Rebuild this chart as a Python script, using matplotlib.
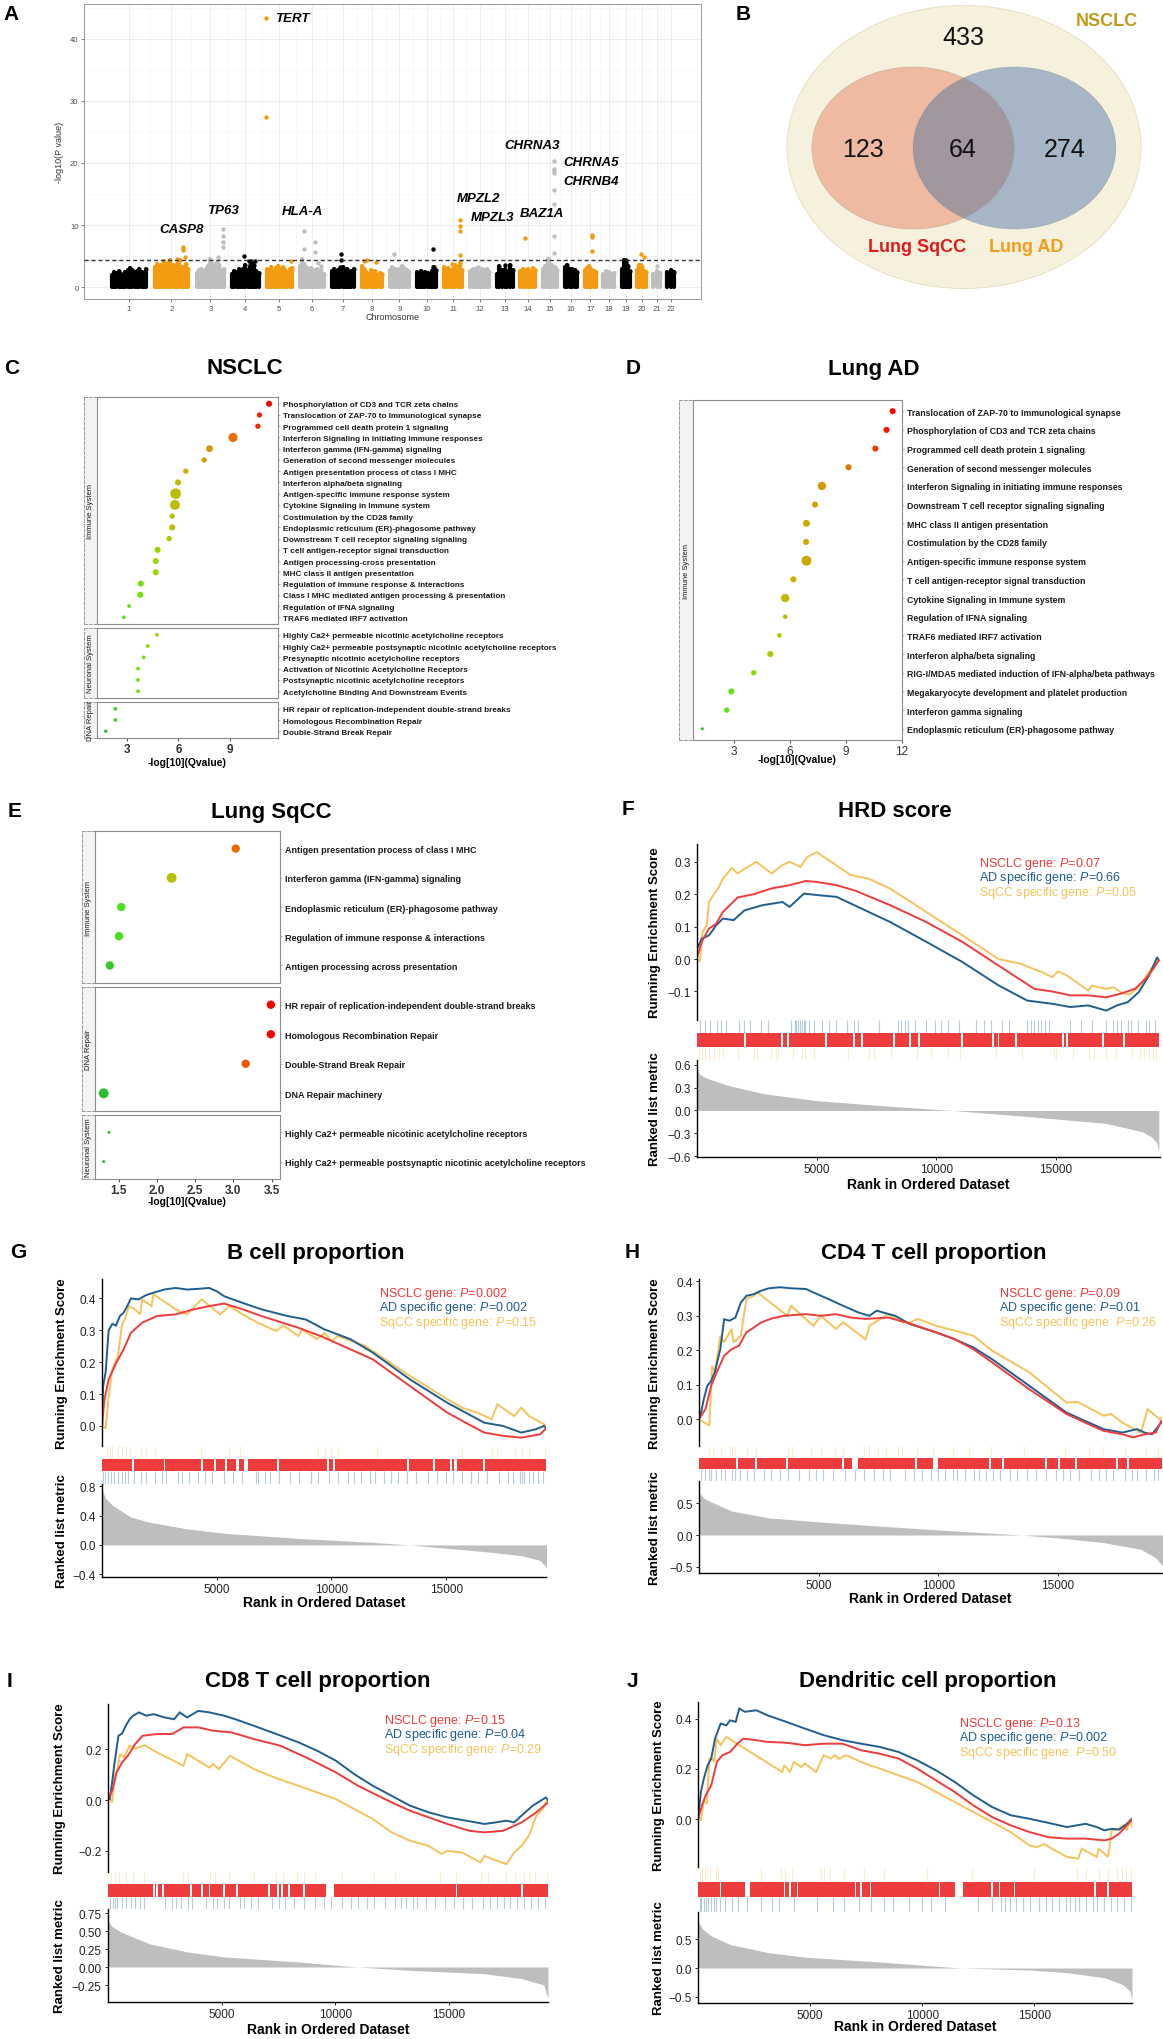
import numpy as np
import matplotlib
matplotlib.use("Agg")
import matplotlib.pyplot as plt
from matplotlib.patches import Ellipse
from matplotlib.colors import LinearSegmentedColormap, Normalize
from matplotlib import font_manager

installed = {f.name for f in font_manager.fontManager.ttflist}
SANS = "Liberation Sans" if "Liberation Sans" in installed else "DejaVu Sans"
NARROW = "Liberation Sans Narrow" if "Liberation Sans Narrow" in installed else SANS
plt.rcParams["font.family"] = SANS
plt.rcParams["mathtext.fontset"] = "custom"
plt.rcParams["mathtext.rm"] = SANS
plt.rcParams["mathtext.it"] = SANS + ":italic"

# ---------------- A: manhattan ----------------
CHROM_LEN = [249, 243, 198, 191, 181, 171, 159, 146, 141, 136, 135,
             134, 115, 107, 103, 90, 81, 78, 59, 63, 48, 51]
CLOUD = [
    [2.0, 2.5, 2.3, 2.6, 2.2, 1.9, 2.4, 2.8, 3.1, 2.7, 2.4, 2.6, 2.9, 2.5, 2.3, 3.0],
    [3.2, 3.8, 3.0, 3.5, 4.2, 3.4, 3.9, 4.4, 3.6, 3.1, 3.8, 4.3, 3.3, 2.9, 3.7, 3.0],
    [2.3, 2.7, 3.0, 2.5, 2.9, 3.4, 4.5, 3.8, 3.2, 4.0, 3.5, 2.8, 3.0],
    [2.2, 2.6, 2.4, 2.9, 2.7, 3.0, 3.6, 2.8, 3.3, 3.9, 3.5, 2.6, 2.3],
    [3.0, 2.8, 3.3, 2.6, 3.1, 3.4, 2.9, 3.2, 2.7, 2.5, 2.9, 3.1],
    [3.4, 4.6, 3.8, 3.3, 2.9, 3.1, 2.7, 2.6, 2.9, 2.4, 2.8, 2.2],
    [2.6, 2.9, 2.5, 2.8, 3.0, 3.3, 2.7, 2.9, 2.4, 2.6, 3.0],
    [3.4, 2.9, 2.5, 2.2, 2.8, 2.4, 2.6, 2.0, 2.3, 2.1],
    [2.8, 3.2, 3.0, 2.6, 2.9, 3.4, 3.1, 2.7, 2.5],
    [2.4, 2.2, 2.6, 2.1, 2.5, 2.3, 2.0, 2.6, 3.2, 2.8],
    [3.2, 2.8, 3.1, 2.6, 2.9, 3.6, 3.3, 3.8, 2.7],
    [2.6, 3.0, 2.8, 3.1, 2.5, 2.9, 2.7, 3.0, 2.4],
    [2.1, 3.4, 2.8, 3.0, 2.5, 3.5, 2.7],
    [2.6, 3.0, 2.8, 2.9, 2.5, 3.1, 2.7],
    [3.0, 3.4, 4.6, 3.8, 3.6, 3.2, 2.7],
    [3.2, 3.6, 2.9, 3.0, 2.7, 2.5],
    [2.7, 3.1, 3.4, 3.0, 2.6, 2.4],
    [2.2, 2.6, 2.4, 2.0, 2.3],
    [3.0, 4.3, 3.8, 3.4, 2.6],
    [2.8, 3.5, 3.2, 2.6, 2.4],
    [2.1, 2.6, 2.3],
    [2.5, 2.7, 2.4],
]
A_PEAKS = [(2, 200, 6.5), (2, 200, 6.2), (2, 200, 6.0), (2, 215, 4.8), (2, 180, 4.3), (2, 160, 4.5),
           (3, 189, 9.3), (3, 187, 8.3), (3, 187, 7.3), (3, 186, 6.4), (3, 150, 4.8),
           (4, 88, 5.0), (4, 120, 4.2), (4, 135, 4.2), (4, 130, 3.5), (4, 160, 4.2),
           (5, 1.3, 43.4), (5, 1.3, 27.4), (5, 170, 4.2),
           (6, 31, 9.0), (6, 31, 6.2), (6, 111, 7.2), (6, 111, 5.7), (6, 125, 3.9), (6, 150, 3.4),
           (7, 67, 5.4), (7, 67, 4.4), (7, 62, 3.3),
           (8, 19, 4.2), (8, 37, 4.3), (8, 102, 4.0), (9, 31, 5.3), (10, 110, 6.1), (10, 110, 3.2),
           (11, 118, 10.9), (11, 118, 9.8), (11, 118, 9.0), (11, 118, 5.2), (11, 118, 4.0), (11, 60, 3.7),
           (12, 55, 3.2), (13, 60, 3.5), (14, 35, 7.9),
           (15, 78, 20.3), (15, 78, 19.0), (15, 78, 18.7), (15, 78, 18.4), (15, 78, 15.6),
           (15, 78, 13.4), (15, 78, 8.2), (15, 78, 5.5), (15, 40, 4.6),
           (17, 52, 8.4), (17, 52, 8.1), (17, 52, 5.9), (19, 32, 4.3), (19, 30, 4.0),
           (20, 30, 5.3), (20, 51, 4.8), (20, 28, 3.6), (21, 28, 3.4)]
GENE_LABELS = [("TERT", 1137, 43.4, "left"), ("CASP8", 492, 9.35, "center"), ("TP63", 777, 12.5, "center"),
               ("HLA-A", 1331, 12.3, "center"), ("MPZL2", 2545, 14.3, "center"), ("MPZL3", 2642, 11.3, "center"),
               ("BAZ1A", 2989, 11.9, "center"), ("CHRNA3", 2920, 22.9, "center"),
               ("CHRNA5", 3329, 20.1, "center"), ("CHRNB4", 3329, 17.1, "center")]
THRESHOLD = 4.3

# ---------------- B: venn ----------------
VENN_COUNTS = [433, 123, 64, 274]   # NSCLC only, SqCC, shared, AD

# ---------------- C / D / E: pathway dot plots ----------------
C_IMMUNE = ["Phosphorylation of CD3 and TCR zeta chains", "Translocation of ZAP-70 to Immunological synapse",
            "Programmed cell death protein 1 signaling", "Interferon Signaling in initiating immune responses",
            "Interferon gamma (IFN-gamma) signaling", "Generation of second messenger molecules",
            "Antigen presentation process of class I MHC", "Interferon alpha/beta signaling",
            "Antigen-specific immune response system", "Cytokine Signaling in Immune system",
            "Costimulation by the CD28 family", "Endoplasmic reticulum (ER)-phagosome pathway",
            "Downstream T cell receptor signaling signaling", "T cell antigen-receptor signal transduction",
            "Antigen processing-cross presentation", "MHC class II antigen presentation",
            "Regulation of immune response & interactions", "Class I MHC mediated antigen processing & presentation",
            "Regulation of IFNA signaling", "TRAF6 mediated IRF7 activation"]
C_IMMUNE_Q = [11.28, 10.72, 10.63, 9.18, 7.81, 7.50, 6.43, 5.98, 5.84, 5.80,
              5.64, 5.64, 5.46, 4.79, 4.68, 4.68, 3.81, 3.78, 3.13, 2.82]
C_IMMUNE_N = [8, 7, 7, 12, 9, 7, 7, 8, 14, 13, 7, 8, 7, 8, 8, 8, 8, 8, 5, 5]
C_NEURO = ["Highly Ca2+ permeable nicotinic acetylcholine receptors",
           "Highly Ca2+ permeable postsynaptic nicotinic acetylcholine receptors",
           "Presynaptic nicotinic acetylcholine receptors", "Activation of Nicotinic Acetylcholine Receptors",
           "Postsynaptic nicotinic acetylcholine receptors", "Acetylcholine Binding And Downstream Events"]
C_NEURO_Q = [4.75, 4.21, 3.98, 3.65, 3.65, 3.65]
C_NEURO_N = [5, 5, 5, 5, 5, 5]
C_DNA = ["HR repair of replication-independent double-strand breaks", "Homologous Recombination Repair",
         "Double-Strand Break Repair"]
C_DNA_Q = [2.33, 2.33, 1.77]
C_DNA_N = [5, 5, 4.5]

D_IMMUNE = ["Translocation of ZAP-70 to Immunological synapse", "Phosphorylation of CD3 and TCR zeta chains",
            "Programmed cell death protein 1 signaling", "Generation of second messenger molecules",
            "Interferon Signaling in initiating immune responses", "Downstream T cell receptor signaling signaling",
            "MHC class II antigen presentation", "Costimulation by the CD28 family",
            "Antigen-specific immune response system", "T cell antigen-receptor signal transduction",
            "Cytokine Signaling in Immune system", "Regulation of IFNA signaling", "TRAF6 mediated IRF7 activation",
            "Interferon alpha/beta signaling", "RIG-I/MDA5 mediated induction of IFN-alpha/beta pathways",
            "Megakaryocyte development and platelet production", "Interferon gamma signaling",
            "Endoplasmic reticulum (ER)-phagosome pathway"]
D_IMMUNE_Q = [11.52, 11.19, 10.59, 9.15, 7.72, 7.35, 6.89, 6.87, 6.89, 6.19,
              5.75, 5.75, 5.44, 4.95, 4.06, 2.86, 2.61, 1.30]
D_IMMUNE_N = [8, 8, 8, 8, 11, 8, 9, 8, 13, 8, 11, 6, 6, 8, 7, 8, 7, 4]

E_IMMUNE = ["Antigen presentation process of class I MHC", "Interferon gamma (IFN-gamma) signaling",
            "Endoplasmic reticulum (ER)-phagosome pathway", "Regulation of immune response & interactions",
            "Antigen processing across presentation"]
E_IMMUNE_Q = [3.03, 2.19, 1.53, 1.50, 1.38]
E_IMMUNE_N = [11, 13, 11, 11, 11]
E_DNA = ["HR repair of replication-independent double-strand breaks", "Homologous Recombination Repair",
         "Double-Strand Break Repair", "DNA Repair machinery"]
E_DNA_Q = [3.49, 3.49, 3.16, 1.30]
E_DNA_N = [11, 11, 11, 13]
E_NEURO = ["Highly Ca2+ permeable nicotinic acetylcholine receptors",
           "Highly Ca2+ permeable postsynaptic nicotinic acetylcholine receptors"]
E_NEURO_Q = [1.37, 1.30]
E_NEURO_N = [4, 4]

# ---------------- F-J: GSEA ----------------
F_NSCLC = [(0, 0.006), (200, 0.053), (500, 0.094), (800, 0.109), (1080, 0.145), (1700, 0.19), (2370, 0.20),
           (3120, 0.218), (3870, 0.228), (4550, 0.241), (5000, 0.238), (5830, 0.228), (6580, 0.212),
           (8080, 0.166), (9590, 0.114), (11090, 0.053), (12600, -0.02), (14100, -0.092), (14850, -0.10),
           (15600, -0.112), (16350, -0.112), (17100, -0.118), (17700, -0.107), (18300, -0.092),
           (18760, -0.06), (19070, -0.03), (19300, -0.004)]
F_AD = [(0, 0.032), (200, 0.063), (500, 0.073), (800, 0.104), (1080, 0.125), (1530, 0.12), (1980, 0.15),
        (2720, 0.166), (3570, 0.176), (3870, 0.161), (4470, 0.202), (5080, 0.197), (5830, 0.192),
        (6580, 0.166), (8080, 0.114), (9590, 0.053), (11090, -0.009), (12600, -0.081), (13800, -0.128),
        (14850, -0.138), (15600, -0.148), (16350, -0.143), (17100, -0.159), (17550, -0.143),
        (18000, -0.133), (18460, -0.102), (18900, -0.05), (19230, 0.006), (19300, -0.004)]
F_SQCC = [(0, 0.0), (120, -0.007), (230, 0.083), (410, 0.104), (500, 0.176), (710, 0.20), (900, 0.22),
          (1080, 0.248), (1460, 0.281), (1700, 0.264), (2000, 0.279), (2480, 0.30), (3120, 0.264),
          (3570, 0.29), (3870, 0.30), (4320, 0.284), (4620, 0.315), (5000, 0.33), (6430, 0.259),
          (7180, 0.248), (8080, 0.217), (9590, 0.145), (11090, 0.073), (12600, 0.0), (13500, -0.014),
          (14400, -0.04), (14850, -0.056), (15080, -0.038), (15450, -0.05), (16350, -0.097),
          (16500, -0.082), (17100, -0.092), (17400, -0.087), (17700, -0.102), (18080, -0.11),
          (18460, -0.087), (18600, -0.072), (18970, -0.03), (19200, -0.01), (19300, -0.004)]
F_METRIC = [(0, 0.54), (100, 0.48), (300, 0.44), (550, 0.41), (1300, 0.33), (2800, 0.22), (5000, 0.13),
            (8000, 0.057), (10700, 0.0), (14100, -0.087), (17100, -0.17), (18600, -0.28), (19000, -0.35),
            (19200, -0.42), (19300, -0.54)]
F_RED = [(0, 1950), (2030, 3530), (3610, 3770), (3840, 5340), (5420, 6540), (6620, 6840), (6920, 8190),
         (8270, 8870), (8950, 9250), (9330, 11050), (11130, 12330), (12410, 12560), (12640, 13310),
         (13390, 15260), (15340, 15410), (15490, 16920), (17000, 17820), (17900, 19300)]
F_BLUE = [110, 320, 550, 850, 1000, 1230, 1750, 1980, 2200, 2660, 2960, 3930, 4080, 4150, 4230, 4310, 4380,
          4460, 4530, 4680, 4910, 5210, 5510, 5810, 6260, 6560, 6710, 7620, 8380, 8530, 8680, 8830, 9130,
          9580, 9960, 10180, 10480, 10930, 11680, 11980, 12290, 12740, 13040, 13790, 13940, 14090, 14240,
          14390, 14550, 14700, 15600, 16050, 16500, 17100, 17400, 17550, 17700, 18000, 18150, 18450,
          18750, 18900, 19130]
F_YELLOW = [100, 200, 350, 500, 700, 900, 1100, 1700, 2400, 2500, 3100, 3300, 3400, 4000, 4400, 4500,
            4900, 6300, 7200, 7400, 8100, 9200, 9800, 10500, 11000, 12500, 13600, 14900, 15000, 15700,
            16400, 16600, 17100, 17500, 18200, 18500, 18700, 18900, 19050, 19200]
F_P = ["0.07", "0.66", "0.05"]

G_NSCLC = [(0, 0.0), (100, 0.08), (290, 0.146), (620, 0.198), (940, 0.24), (1260, 0.292), (1750, 0.324),
           (2400, 0.345), (3210, 0.35), (4020, 0.366), (4670, 0.376), (5320, 0.384), (6130, 0.366),
           (6940, 0.345), (8560, 0.308), (9530, 0.282), (10180, 0.261), (11800, 0.209), (13420, 0.125),
           (15040, 0.042), (15850, 0.01), (16660, -0.021), (17470, -0.031), (18280, -0.037),
           (19100, -0.026), (19390, -0.005)]
G_AD = [(0, 0.0), (50, 0.125), (160, 0.17), (290, 0.30), (450, 0.32), (610, 0.315), (780, 0.345),
        (940, 0.355), (1100, 0.376), (1260, 0.40), (1590, 0.397), (1910, 0.41), (2240, 0.418),
        (2720, 0.428), (3210, 0.433), (3700, 0.428), (4180, 0.43), (4670, 0.433), (4990, 0.423),
        (5320, 0.407), (6130, 0.386), (6940, 0.366), (8070, 0.345), (8880, 0.334), (9690, 0.303),
        (10830, 0.272), (11800, 0.23), (13420, 0.146), (15040, 0.073), (16660, 0.01), (17470, 0.0),
        (18280, -0.021), (18930, -0.01), (19260, 0.0), (19390, -0.01)]
G_SQCC = [(50, 0.0), (160, -0.008), (290, 0.089), (450, 0.178), (700, 0.22), (860, 0.313), (1020, 0.34),
          (1180, 0.376), (1430, 0.366), (1670, 0.35), (1750, 0.397), (2160, 0.376), (2240, 0.413),
          (3210, 0.366), (3700, 0.35), (4340, 0.397), (5150, 0.35), (5560, 0.376), (6130, 0.35),
          (6780, 0.324), (7590, 0.298), (7910, 0.315), (8560, 0.282), (8720, 0.303), (9370, 0.272),
          (9690, 0.292), (10020, 0.266), (10260, 0.282), (11480, 0.251), (11800, 0.235), (13420, 0.157),
          (15040, 0.084), (15690, 0.057), (16340, 0.042), (16990, 0.021), (17230, 0.068), (17960, 0.031),
          (18280, 0.057), (18610, 0.031), (19390, 0.0)]
G_METRIC = [(0, 0.76), (150, 0.64), (460, 0.54), (1260, 0.38), (2070, 0.31), (3700, 0.22), (5320, 0.16),
            (8560, 0.09), (11800, 0.036), (13420, 0.0), (15040, -0.045), (16660, -0.09), (18280, -0.145),
            (19090, -0.21), (19300, -0.28), (19400, -0.33)]
G_RED = [(0, 1320), (1400, 2690), (2750, 4300), (4380, 4880), (4950, 5370), (5450, 5850), (5950, 6200),
         (6350, 7630), (7720, 9820), (9900, 10060), (10150, 13300), (13400, 14440), (14530, 15160),
         (15250, 15350), (15460, 16620), (16710, 19350)]
G_BLUE = [60, 150, 250, 400, 520, 700, 850, 1000, 1150, 1400, 1700, 1900, 2300, 2600, 2800, 3300, 3500,
          3800, 4200, 4500, 4800, 5300, 5700, 6100, 6700, 6800, 7100, 7300, 7700, 8200, 8600, 9100, 9400,
          9900, 10300, 10700, 11000, 11300, 11700, 11900, 12300, 12600, 12900, 13300, 13700, 14200,
          14600, 15000, 15300, 15700, 16100, 16400, 16800, 17300, 17700, 17900, 18200, 18300, 18400,
          18600, 18800, 19000, 19200]
G_YELLOW = [200, 350, 450, 700, 870, 1030, 1200, 1680, 1930, 2330, 4300, 5550, 6000, 9400, 9700, 10000,
            10300, 12000, 15700, 17000, 17200, 18000, 18300, 18600, 19300]
G_P = ["0.002", "0.002", "0.15"]

H_NSCLC = [(0, 0.0), (270, 0.029), (510, 0.097), (740, 0.136), (1050, 0.184), (1360, 0.203), (1670, 0.213),
           (1980, 0.252), (2290, 0.266), (2600, 0.281), (3070, 0.293), (3540, 0.30), (4470, 0.305),
           (5090, 0.30), (5720, 0.305), (6340, 0.295), (6960, 0.291), (7890, 0.295), (8670, 0.281),
           (9910, 0.252), (10690, 0.232), (11470, 0.203), (12250, 0.165), (13800, 0.087), (15360, 0.015),
           (16130, -0.01), (16910, -0.034), (17690, -0.044), (18150, -0.053), (18620, -0.044),
           (19090, -0.039), (19320, -0.005)]
H_AD = [(0, 0.0), (90, 0.02), (200, 0.058), (350, 0.097), (500, 0.11), (660, 0.136), (890, 0.203),
        (1050, 0.29), (1280, 0.286), (1520, 0.295), (1750, 0.339), (1980, 0.358), (2290, 0.363),
        (2600, 0.373), (2920, 0.38), (3380, 0.383), (3850, 0.38), (4470, 0.378), (4780, 0.368),
        (5400, 0.349), (6030, 0.329), (6650, 0.31), (7120, 0.30), (7420, 0.315), (8200, 0.30),
        (8820, 0.276), (9910, 0.252), (10690, 0.232), (11470, 0.208), (12250, 0.174), (13800, 0.097),
        (15360, 0.019), (16130, -0.005), (16910, -0.029), (17690, -0.039), (18310, -0.029),
        (18620, -0.039), (18930, -0.044), (19320, -0.01)]
H_SQCC = [(0, 0.0), (430, -0.019), (550, 0.155), (660, 0.136), (890, 0.242), (1050, 0.223), (1360, 0.262),
          (1440, 0.223), (1750, 0.242), (1980, 0.349), (2290, 0.358), (2450, 0.368), (3690, 0.30),
          (3850, 0.329), (4780, 0.271), (5090, 0.30), (5720, 0.262), (6030, 0.281), (6960, 0.232),
          (7120, 0.271), (7580, 0.291), (7890, 0.305), (8510, 0.281), (8820, 0.281), (9140, 0.291),
          (9910, 0.271), (10690, 0.257), (11470, 0.242), (12250, 0.199), (13800, 0.136), (15360, 0.048),
          (15830, 0.05), (16910, 0.01), (17220, 0.015), (17690, -0.01), (18470, -0.039), (18750, 0.029),
          (19240, 0.0), (19370, 0.005)]
H_METRIC = [(0, 0.67), (200, 0.58), (580, 0.51), (1360, 0.38), (2920, 0.27), (5090, 0.205), (7580, 0.14),
            (10690, 0.063), (13490, 0.0), (15360, -0.058), (16910, -0.12), (18470, -0.226),
            (19090, -0.36), (19370, -0.49)]
H_RED = [(0, 1550), (1630, 2330), (2410, 3620), (3700, 5990), (6070, 6380), (6650, 9020), (9100, 9800),
         (9990, 12130), (12210, 12670), (12750, 14460), (14540, 15010), (15090, 15710), (15790, 17420),
         (17500, 17880), (17960, 19350)]
H_BLUE = [100, 250, 400, 500, 700, 900, 1100, 1400, 1500, 1700, 2000, 2300, 2700, 3000, 3400, 3700, 4200,
          4600, 4900, 5200, 5600, 6100, 6500, 6900, 7300, 7700, 8000, 8600, 9000, 9300, 9700, 10000,
          10300, 10600, 10800, 11100, 11500, 11700, 12000, 12300, 12600, 13000, 13300, 13700, 14100,
          14500, 14900, 15200, 15500, 15900, 16400, 16700, 17000, 17300, 17800, 18100, 18300, 18700,
          19000, 19200]
H_YELLOW = [400, 600, 900, 1300, 1400, 1500, 2000, 2400, 3700, 3900, 4700, 5100, 5700, 6000, 6900, 7100,
            7500, 7800, 8300, 8500, 9100, 9800, 10600, 11300, 12200, 13600, 15300, 16300, 16900, 17800,
            18700, 19200]
H_P = ["0.09", "0.01", "0.26"]

I_NSCLC = [(0, 0.0), (210, 0.043), (380, 0.109), (620, 0.148), (870, 0.174), (1190, 0.22), (1520, 0.253),
           (2170, 0.26), (2830, 0.26), (3320, 0.286), (3970, 0.286), (4620, 0.273), (5440, 0.266),
           (6420, 0.24), (7570, 0.214), (8710, 0.168), (10020, 0.109), (11000, 0.056), (12470, -0.009),
           (13280, -0.042), (14920, -0.094), (15900, -0.121), (16550, -0.127), (17370, -0.121),
           (18190, -0.088), (18840, -0.048), (19350, -0.009)]
I_AD = [(0, 0.0), (80, 0.004), (180, 0.069), (290, 0.148), (460, 0.253), (620, 0.262), (780, 0.292),
        (950, 0.318), (1110, 0.332), (1360, 0.345), (1680, 0.332), (2010, 0.338), (2500, 0.325),
        (2910, 0.318), (3150, 0.345), (3480, 0.325), (3970, 0.351), (4460, 0.345), (5110, 0.332),
        (5600, 0.318), (6420, 0.292), (7400, 0.26), (8380, 0.227), (9200, 0.194), (10020, 0.155),
        (10830, 0.102), (11650, 0.056), (12470, 0.017), (13280, -0.022), (14100, -0.048),
        (14920, -0.068), (15740, -0.081), (16550, -0.094), (17040, -0.088), (17530, -0.081),
        (17860, -0.088), (18350, -0.048), (18680, -0.022), (19250, 0.01), (19350, 0.0)]
I_SQCC = [(80, 0.004), (180, -0.009), (290, 0.096), (410, 0.122), (540, 0.181), (700, 0.168), (950, 0.214),
          (1190, 0.201), (1600, 0.216), (2170, 0.187), (3320, 0.135), (3480, 0.181), (4460, 0.128),
          (4620, 0.142), (4870, 0.122), (5360, 0.174), (6420, 0.122), (7320, 0.089), (7730, 0.076),
          (8380, 0.056), (9200, 0.03), (10020, 0.004), (11650, -0.075), (12470, -0.127), (13280, -0.16),
          (14100, -0.18), (14670, -0.212), (14920, -0.20), (15570, -0.206), (16380, -0.245),
          (16550, -0.22), (16880, -0.232), (17530, -0.252), (17860, -0.206), (18190, -0.18),
          (18510, -0.14), (18840, -0.062), (19170, -0.029), (19300, 0.0), (19350, -0.013)]
I_METRIC = [(0, 0.65), (150, 0.57), (540, 0.49), (1850, 0.32), (3480, 0.21), (5110, 0.14), (8380, 0.07),
            (11000, 0.0), (13280, -0.046), (16550, -0.093), (18190, -0.16), (19170, -0.25),
            (19350, -0.44)]
I_RED = [(0, 1970), (2050, 2130), (2210, 2380), (2460, 3600), (3680, 4090), (4170, 4420), (4500, 5070),
         (5150, 5650), (5730, 7040), (7120, 7440), (7520, 7610), (7690, 7930), (8010, 8590),
         (8670, 9600), (9950, 15290), (15370, 18150), (18230, 19350)]
I_BLUE = [100, 200, 300, 400, 600, 800, 1000, 1200, 1400, 1600, 2500, 2800, 3000, 3200, 3500, 3700, 4300,
          4600, 4800, 5100, 5300, 5800, 6000, 6300, 6600, 7200, 7500, 7800, 8200, 8600, 9100, 9500, 9800,
          10300, 10700, 11000, 11400, 11700, 12200, 12600, 12900, 13100, 13400, 13600, 14000, 14400,
          14800, 15200, 15600, 16000, 16500, 16800, 17100, 17400, 17700, 18000, 18300, 18600, 18900,
          19200]
I_YELLOW = [150, 300, 500, 800, 1100, 1600, 3300, 3500, 4500, 4700, 5300, 6400, 7400, 7700, 8300, 8600,
            9100, 10300, 11700, 12600, 14600, 15300, 16400, 16700, 17500, 17900, 18300, 18500, 18800, 19300]
I_P = ["0.15", "0.04", "0.29"]

J_NSCLC = [(0, 0.0), (180, 0.054), (340, 0.094), (590, 0.134), (840, 0.227), (1090, 0.254), (1430, 0.267),
           (1760, 0.30), (2010, 0.32), (2600, 0.314), (3100, 0.307), (3930, 0.304), (4770, 0.294),
           (5600, 0.30), (6440, 0.30), (7270, 0.274), (8110, 0.26), (8940, 0.241), (9770, 0.201),
           (10610, 0.154), (11440, 0.108), (12280, 0.054), (13110, 0.008), (13940, -0.025),
           (14780, -0.052), (15610, -0.072), (16450, -0.078), (17280, -0.078), (18120, -0.085),
           (18450, -0.078), (18780, -0.058), (19120, -0.025), (19320, -0.005)]
J_AD = [(0, 0.0), (130, 0.108), (260, 0.161), (430, 0.214), (590, 0.241), (760, 0.32), (1010, 0.38),
        (1260, 0.373), (1430, 0.393), (1680, 0.387), (1840, 0.44), (2090, 0.427), (2600, 0.433),
        (3100, 0.413), (3930, 0.387), (4770, 0.36), (5600, 0.334), (6440, 0.314), (7270, 0.30),
        (8110, 0.287), (8940, 0.267), (9770, 0.234), (10610, 0.194), (11440, 0.148), (12280, 0.094),
        (13110, 0.048), (13940, 0.015), (14780, 0.001), (15610, -0.015), (16450, -0.032),
        (17280, -0.019), (17780, -0.032), (18120, -0.045), (18450, -0.039), (18780, -0.042),
        (19120, -0.019), (19350, 0.001)]
J_SQCC = [(60, 0.0), (130, -0.005), (260, 0.074), (390, 0.061), (510, 0.241), (640, 0.241), (720, 0.227),
          (840, 0.32), (1010, 0.294), (1260, 0.327), (3760, 0.187), (3840, 0.214), (4100, 0.187),
          (4270, 0.227), (4600, 0.207), (4770, 0.221), (5270, 0.187), (5600, 0.254), (5930, 0.241),
          (6100, 0.254), (6270, 0.24), (6600, 0.254), (7440, 0.221), (8110, 0.201), (8940, 0.174),
          (9770, 0.148), (10610, 0.108), (11440, 0.068), (12280, 0.028), (13110, -0.012),
          (13940, -0.052), (14780, -0.105), (15110, -0.112), (15440, -0.10), (15780, -0.118),
          (16450, -0.151), (16950, -0.158), (17110, -0.118), (17780, -0.151), (17860, -0.118),
          (18280, -0.151), (18450, -0.045), (18780, -0.039), (18950, -0.025), (19120, -0.045),
          (19280, 0.001), (19350, -0.032)]
J_METRIC = [(0, 0.82), (200, 0.68), (590, 0.56), (1430, 0.41), (3100, 0.27), (4770, 0.19), (8110, 0.105),
            (11000, 0.02), (11800, 0.0), (14780, -0.035), (16450, -0.08), (18120, -0.17), (18950, -0.29),
            (19250, -0.4), (19350, -0.55)]
J_RED = [(0, 980), (1040, 2090), (2340, 3820), (3880, 4070), (4130, 4400), (4460, 6990), (7050, 7240),
         (7300, 7650), (7710, 10740), (10800, 11440), (11810, 13080), (13140, 13410), (13470, 14080),
         (14140, 17670), (17730, 18250), (18310, 19350)]
J_BLUE = [80, 150, 250, 350, 450, 600, 700, 800, 1000, 1200, 1500, 1800, 2200, 2800, 3300, 3600, 4300,
          5300, 6000, 6500, 7200, 7700, 8300, 8700, 9400, 10000, 10400, 11000, 12500, 13100, 13500, 13700,
          13900, 14200, 14500, 14800, 15200, 15500, 15800, 16100, 16400, 16600, 16800, 17000, 17300,
          17600, 17800, 18100, 18400, 18700, 19000, 19300]
J_YELLOW = [100, 200, 300, 400, 550, 800, 900, 2800, 3700, 3900, 4200, 5500, 5600, 5900, 6500, 7400, 8300,
            10200, 12200, 15000, 16900, 17300, 17900, 18300, 18700, 18900, 19100, 19300]
J_P = ["0.13", "0.002", "0.50"]

N_GENES = 19350

# ================= drawing =================
W, H = 1163, 2040
fig = plt.figure(figsize=(W / 100, H / 100), dpi=100)


def px_axes(x0, y0, x1, y1):
    return fig.add_axes([x0 / W, 1 - y1 / H, (x1 - x0) / W, (y1 - y0) / H])


ov = fig.add_axes([0, 0, 1, 1])
ov.set_xlim(0, W)
ov.set_ylim(H, 0)
ov.axis("off")
ov.set_zorder(10)

RED, BLUE, YEL = "#EE3B3B", "#1F5E8E", "#F5C35C"
CHROM_COLORS = ["#000000", "#F39C12", "#BEBEBE"]

# ---- A
axA = px_axes(84, 5, 701, 300)
GAP = 49
starts = np.concatenate([[0], np.cumsum(np.array(CHROM_LEN[:-1]) + GAP)])
centers = starts + np.array(CHROM_LEN) / 2
for k, prof in enumerate(CLOUD):
    col = CHROM_COLORS[k % 3]
    xs = starts[k] + np.linspace(0.02, 0.98, len(prof)) * CHROM_LEN[k]
    lc = axA.vlines(xs, 0, prof, colors=col, lw=3.0, zorder=2)
    lc.set_capstyle("round")
    axA.scatter(xs, prof, s=9, color=col, lw=0, zorder=3)
for c, pos, v in A_PEAKS:
    axA.scatter(starts[c - 1] + pos, v, s=10, color=CHROM_COLORS[(c - 1) % 3], lw=0, zorder=3)
axA.axhline(THRESHOLD, color="#333333", lw=1.0, ls=(0, (3, 2)), zorder=4)
for name, x, y, ha in GENE_LABELS:
    axA.text(x, y, name, ha=ha, va="center", fontsize=9.5, fontweight="bold", fontstyle="italic", zorder=5)
axA.set_xlim(-187, 4091)
axA.set_ylim(-1.9, 45.6)
axA.set_xticks(centers)
axA.set_xticklabels([str(i + 1) for i in range(22)])
axA.set_xticks((centers[:-1] + centers[1:]) / 2, minor=True)
axA.set_yticks([0, 10, 20, 30, 40])
axA.set_yticks([5, 15, 25, 35, 45], minor=True)
axA.grid(True, which="major", color="#EBEBEB", lw=0.6)
axA.grid(True, which="minor", color="#F4F4F4", lw=0.4)
axA.set_axisbelow(True)
axA.tick_params(which="major", labelsize=5.5, labelcolor="#4D4D4D", color="#4D4D4D", length=2, width=0.5, pad=2)
axA.tick_params(which="minor", length=0)
for s in axA.spines.values():
    s.set_color("#8A8A8A")
    s.set_linewidth(0.6)
axA.set_xlabel("Chromosome", fontsize=6.5, color="#333333")
axA.xaxis.set_label_coords(0.5, -0.045)
axA.set_ylabel("-log10(P value)", fontsize=6.5, color="#333333")
axA.yaxis.set_label_coords(-0.032, 0.5)

# ---- B venn
outer = Ellipse((964, 148), 354, 283, fc="#F6F1DD", ec="#E6DDBE", lw=0.6)
left = Ellipse((913, 149), 202, 162, fc="#EEBAA2", ec="none")
right = Ellipse((1014.5, 149), 203, 162, fc="#A7B6C7", ec="none")
inter = Ellipse((913, 149), 202, 162, fc="#A1979F", ec="none")
for p in (outer, left, right, inter):
    ov.add_patch(p)
inter.set_clip_path(right)
for cx in (913, 1014.5):
    ov.add_patch(Ellipse((cx, 149), 202.5, 162, fill=False, ec="#8F8680", lw=0.4, alpha=0.5))
for val, (x, y) in zip(VENN_COUNTS, [(963, 38), (863, 150), (963, 150), (1065, 150)]):
    ov.text(x, y, str(val), fontsize=18, ha="center", va="center", color="#111111")
ov.text(1107, 22, "NSCLC", fontsize=13, fontweight="bold", color="#C09A1B", ha="center", va="center")
ov.text(917, 248, "Lung SqCC", fontsize=13, fontweight="bold", color="#E31A1C", ha="center", va="center")
ov.text(1026, 248, "Lung AD", fontsize=13, fontweight="bold", color="#F39C1A", ha="center", va="center")

# ---- C/D/E dot plots
CMAP = LinearSegmentedColormap.from_list(
    "qv", [(0, "#2DBE2D"), (0.12, "#4FE81A"), (0.3, "#9AD800"), (0.48, "#C8B400"),
           (0.7, "#DC8C00"), (0.85, "#EE5A00"), (1, "#FF0000")])
renderer = fig.canvas.get_renderer()


def fit_size(labels, target_px, family):
    t = fig.text(0, 0, "", fontsize=10, fontweight="bold", family=family)
    wmax = 0
    for s in labels:
        t.set_text(s)
        wmax = max(wmax, t.get_window_extent(renderer=renderer).width)
    t.remove()
    return 10 * target_px / wmax


def dot_panel(strip_x, box_x, facets, xlim, xticks, xtick_text, text_px, bold_ticks, xlab_y):
    allv = np.concatenate([f[2] for f in facets])
    norm = Normalize(allv.min(), allv.max())
    fs = fit_size([l for f in facets for l in f[1]], text_px, NARROW)
    axes = []
    for name, labels, vals, counts, (y0, y1) in facets:
        st = px_axes(strip_x[0], y0, strip_x[1], y1)
        st.set_facecolor("#F3F3F3")
        st.set_xticks([])
        st.set_yticks([])
        for s in st.spines.values():
            s.set_linestyle((0, (3, 2)))
            s.set_color("#9A9A9A")
            s.set_linewidth(0.7)
        st.text(0.5, 0.5, name, rotation=90, ha="center", va="center", fontsize=5.5,
                transform=st.transAxes, color="#1A1A1A")
        ax = px_axes(box_x[0], y0, box_x[1], y1)
        n = len(labels)
        yy = np.arange(n)
        vals = np.array(vals)
        ax.scatter(vals, yy, s=0.3 * np.array(counts) ** 2, c=CMAP(norm(vals)), lw=0, zorder=3)
        ax.set_xlim(*xlim)
        ax.set_ylim(n - 0.4, -0.6)
        ax.yaxis.tick_right()
        ax.set_yticks(yy)
        ax.set_yticklabels(labels, fontsize=fs, fontweight="bold", family=NARROW, color="#1A1A1A")
        ax.tick_params(axis="y", length=1.5, pad=2, color="#999999", width=0.5)
        for s in ax.spines.values():
            s.set_color("#8C8C8C")
            s.set_linewidth(0.8)
        ax.set_xticks(xticks)
        ax.tick_params(axis="x", labelbottom=False, length=0)
        axes.append(ax)
    last = axes[-1]
    last.set_xticks(xticks)
    last.set_xticklabels(xtick_text, fontsize=8.5, fontweight="bold" if bold_ticks else "normal", color="#333333")
    last.tick_params(axis="x", labelbottom=True, length=2, color="#555555", pad=1.5)
    xc = (box_x[0] + box_x[1]) / 2
    ov.text(xc, xlab_y, "-log[10](Qvalue)", fontsize=7.5, fontweight="bold", ha="center", va="center")


dot_panel((84, 97), (97, 278),
          [("Immune System", C_IMMUNE, C_IMMUNE_Q, C_IMMUNE_N, (398, 625)),
           ("Neuronal System", C_NEURO, C_NEURO_Q, C_NEURO_N, (629, 699)),
           ("DNA Repair", C_DNA, C_DNA_Q, C_DNA_N, (703, 739))],
          (1.26, 11.8), [3, 6, 9], ["3", "6", "9"], 269, True, 763)
dot_panel((679, 693), (693, 902),
          [("Immune System", D_IMMUNE, D_IMMUNE_Q, D_IMMUNE_N, (401, 741))],
          (0.8, 12.02), [3, 6, 9, 12], ["3", "6", "9", "12"], 247, False, 760)
dot_panel((82, 95), (95, 280),
          [("Immune System", E_IMMUNE, E_IMMUNE_Q, E_IMMUNE_N, (832, 984)),
           ("DNA Repair", E_DNA, E_DNA_Q, E_DNA_N, (988, 1112)),
           ("Neuronal System", E_NEURO, E_NEURO_Q, E_NEURO_N, (1116, 1180))],
          (1.186, 3.61), [1.5, 2.0, 2.5, 3.0, 3.5], ["1.5", "2.0", "2.5", "3.0", "3.5"], 300, True, 1202)


# ---- F-J GSEA
def fmt(v, d):
    s = f"{v:.{d}f}"
    if float(s) == 0:
        s = f"{0:.{d}f}"
    return s.replace("-", "\u2212")


def gsea_panel(g, nsclc, ad, sqcc, metric, red, blue, yellow, order, es_ticks, m_ticks, m_dec, pvals):
    L, R = g["left"], g["right"]
    ax = px_axes(L, g["es_top"], R, g["es_bot"])
    for pts, col in ((sqcc, YEL), (ad, BLUE), (nsclc, RED)):
        x, y = np.array(pts).T
        ax.plot(x, y, color=col, lw=1.4, solid_joinstyle="miter")
    ax.set_xlim(0, N_GENES)
    ax.set_ylim(*g["es_lim"])
    for k in ("top", "right", "bottom"):
        ax.spines[k].set_visible(False)
    ax.spines["left"].set_linewidth(1.0)
    ax.tick_params(axis="x", bottom=False, labelbottom=False)
    ax.set_yticks(es_ticks)
    ax.set_yticklabels([fmt(v, 1) for v in es_ticks])
    ax.tick_params(axis="y", labelsize=8.5, length=2.5, width=0.6, pad=2, labelcolor="#222222")
    ax.set_ylabel("Running Enrichment Score", fontsize=9.5, fontweight="bold")
    ax.yaxis.set_label_coords(-(L - g["ylab_x"]) / (R - L), 0.5)

    hx = px_axes(L, g["es_bot"], R, g["hit_bot"])
    hx.set_xlim(0, N_GENES)
    hx.set_ylim(3, 0)
    hx.axis("off")
    for i, kind in enumerate(order):
        if kind == "red":
            hx.broken_barh([(a, b - a) for a, b in red], (i, 1), facecolors=RED, lw=0)
        elif kind == "blue":
            hx.vlines(blue, i, i + 1, color=BLUE, alpha=0.32, lw=0.8)
        else:
            hx.vlines(yellow, i, i + 1, color=YEL, alpha=0.3, lw=0.8)

    mx = px_axes(L, g["hit_bot"], R, g["m_bot"])
    x, y = np.array(metric).T
    mx.fill_between(x, 0, y, color="#BEBEBE", lw=0)
    mx.set_xlim(0, N_GENES)
    mx.set_ylim(*g["m_lim"])
    for k in ("top", "right"):
        mx.spines[k].set_visible(False)
    mx.spines["left"].set_linewidth(1.0)
    mx.spines["bottom"].set_linewidth(1.0)
    mx.set_yticks(m_ticks)
    mx.set_yticklabels([fmt(v, m_dec) for v in m_ticks])
    mx.set_xticks([5000, 10000, 15000])
    mx.set_xticklabels(["5000", "10000", "15000"])
    mx.tick_params(labelsize=8.5, length=2.5, width=0.6, pad=2, labelcolor="#222222")
    mx.set_ylabel("Ranked list metric", fontsize=9.5, fontweight="bold")
    mx.yaxis.set_label_coords(-(L - g["ylab_x"]) / (R - L), 0.5)
    ov.text((L + R) / 2, g["xlab_y"], "Rank in Ordered Dataset", fontsize=10, fontweight="bold",
            ha="center", va="center")
    ov.text(g["title"][0], g["title"][1], g["name"], fontsize=16, fontweight="bold", ha="center", va="center")
    lx, ly = g["legend"]
    for j, (lab, col) in enumerate((("NSCLC gene", RED), ("AD specific gene", BLUE),
                                    ("SqCC specific gene", YEL))):
        ov.text(lx, ly + j * 14.3, lab + r": $\mathit{P}$=" + pvals[j], color=col, fontsize=9,
                ha="left", va="center")


GEO_F = dict(name="HRD score", left=697, right=1160, es_top=845, es_bot=1021, hit_bot=1061, m_bot=1158,
             es_lim=(-0.188, 0.355), m_lim=(-0.613, 0.665), ylab_x=661, xlab_y=1185,
             title=(895, 812), legend=(979, 864))
GEO_G = dict(name="B cell proportion", left=102, right=546, es_top=1280, es_bot=1447, hit_bot=1485,
             m_bot=1578, es_lim=(-0.063, 0.461), m_lim=(-0.437, 0.832), ylab_x=68, xlab_y=1603,
             title=(316, 1254), legend=(379, 1294))
GEO_H = dict(name="CD4 T cell proportion", left=699, right=1162, es_top=1280, es_bot=1447, hit_bot=1482,
             m_bot=1574, es_lim=(-0.078, 0.407), m_lim=(-0.6, 0.853), ylab_x=661, xlab_y=1599,
             title=(934, 1254), legend=(999, 1294))
GEO_I = dict(name="CD8 T cell proportion", left=108, right=548, es_top=1705, es_bot=1873, hit_bot=1910,
             m_bot=2003, es_lim=(-0.283, 0.378), m_lim=(-0.486, 0.806), ylab_x=66, xlab_y=2030,
             title=(318, 1682), legend=(384, 1721))
GEO_J = dict(name="Dendritic cell proportion", left=698, right=1132, es_top=1703, es_bot=1868,
             hit_bot=1913, m_bot=2004, es_lim=(-0.191, 0.466), m_lim=(-0.61, 0.977), ylab_x=665,
             xlab_y=2027, title=(928, 1682), legend=(959, 1724))

gsea_panel(GEO_F, F_NSCLC, F_AD, F_SQCC, F_METRIC, F_RED, F_BLUE, F_YELLOW, ["blue", "red", "yellow"],
           [-0.1, 0.0, 0.1, 0.2, 0.3], [-0.6, -0.3, 0.0, 0.3, 0.6], 1, F_P)
gsea_panel(GEO_G, G_NSCLC, G_AD, G_SQCC, G_METRIC, G_RED, G_BLUE, G_YELLOW, ["yellow", "red", "blue"],
           [0.0, 0.1, 0.2, 0.3, 0.4], [-0.4, 0.0, 0.4, 0.8], 1, G_P)
gsea_panel(GEO_H, H_NSCLC, H_AD, H_SQCC, H_METRIC, H_RED, H_BLUE, H_YELLOW, ["yellow", "red", "blue"],
           [0.0, 0.1, 0.2, 0.3, 0.4], [-0.5, 0.0, 0.5], 1, H_P)
gsea_panel(GEO_I, I_NSCLC, I_AD, I_SQCC, I_METRIC, I_RED, I_BLUE, I_YELLOW, ["yellow", "red", "blue"],
           [-0.2, 0.0, 0.2], [-0.25, 0.0, 0.25, 0.5, 0.75], 2, I_P)
gsea_panel(GEO_J, J_NSCLC, J_AD, J_SQCC, J_METRIC, J_RED, J_BLUE, J_YELLOW, ["yellow", "red", "blue"],
           [0.0, 0.2, 0.4], [-0.5, 0.0, 0.5], 1, J_P)

# ---- titles and panel letters
for name, x, y in (("NSCLC", 245, 369), ("Lung AD", 874, 370), ("Lung SqCC", 271, 813)):
    ov.text(x, y, name, fontsize=16, fontweight="bold", ha="center", va="center")
for lab, x, y in (("A", 11, 14), ("B", 743, 15), ("C", 12, 368), ("D", 633, 368), ("E", 15, 812),
                  ("F", 628, 810), ("G", 18, 1253), ("H", 632, 1253), ("I", 9, 1682), ("J", 632, 1682)):
    ov.text(x, y, lab, fontsize=15, fontweight="bold", ha="center", va="center")

fig.savefig("out.png", dpi=100)
